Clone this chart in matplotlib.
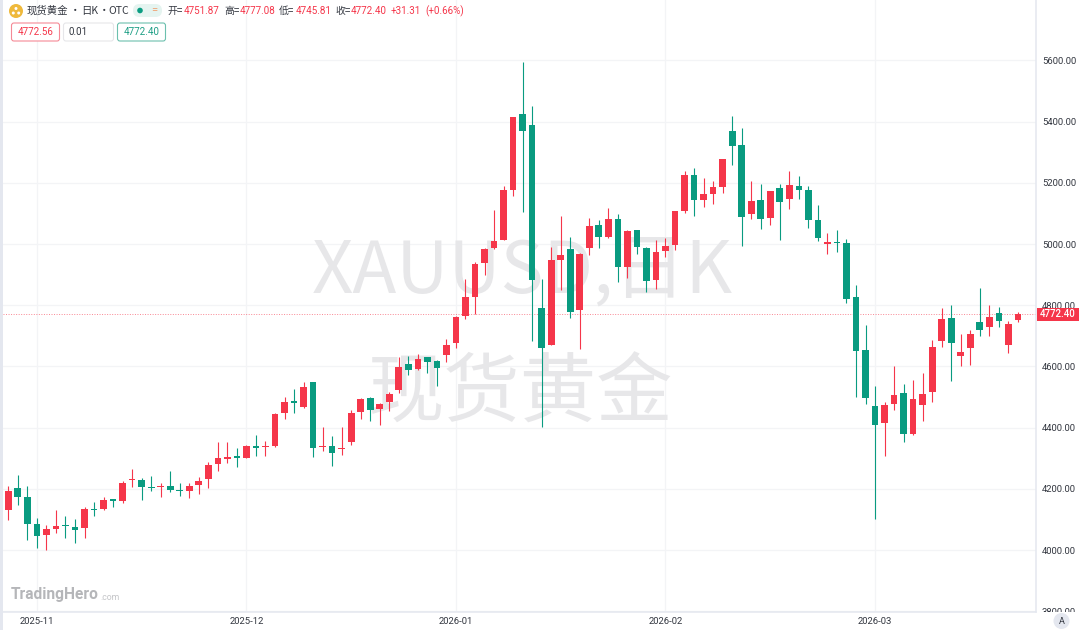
import matplotlib
matplotlib.use("Agg")
import matplotlib.pyplot as plt
from matplotlib.patches import FancyBboxPatch, Rectangle, Circle
from matplotlib.transforms import Bbox

plt.rcParams['font.family'] = ['Roboto', 'Noto Sans CJK SC', 'DejaVu Sans']

opens = [4131,4204,4172,4085,4049,4070,4080,4075,4071,4134,
         4133,4166,4161,4230,4229,4206,4207,4208,4196,4193,
         4211,4231,4282,4296,4307,4302,4339,4335,4339,4449,
         4486,4466,4549,4337,4341,4331,4354,4450,4497,4462,
         4484,4523,4608,4591,4630,4618,4637,4675,4764,4828,
         4938,4986,5012,5177,5424,5390,4791,4671,4948,4983,
         4785,4986,5061,5022,5083,4924,5045,4987,4881,4978,
         4998,5108,5226,5143,5165,5186,5370,5324,5098,5144,
         5084,5183,5148,5189,5177,5077,5000,5006,5003,4827,
         4653,4472,4414,4476,4512,4380,4474,4515,4684,4757,
         4633,4659,4746,4729,4775,4671,4751.87]
closes = [4194,4173,4085,4047,4068,4077,4077,4065,4134,4130,
          4163,4159,4218,4232,4206,4204,4209,4197,4193,4208,
          4227,4279,4300,4305,4302,4339,4333,4339,4443,4484,
          4480,4532,4333,4339,4318,4333,4448,4494,4458,4477,
          4509,4597,4587,4624,4616,4595,4670,4763,4827,4935,
          4985,5009,5178,5416,5369,4883,4661,4947,4964,4779,
          4966,5059,5024,5083,4924,5043,4991,4879,4975,4994,
          5107,5226,5144,5163,5185,5278,5321,5088,5139,5082,
          5173,5136,5192,5177,5079,5018,5005,5004,4819,4650,
          4498,4408,4474,4505,4379,4492,4510,4665,4755,4675,
          4648,4705,4719,4763,4750,4739,4772.40]
highs = [4210,4244,4210,4106,4082,4131,4111,4101,4139,4158,
         4172,4168,4227,4265,4236,4242,4220,4258,4218,4220,
         4237,4287,4353,4352,4333,4343,4376,4356,4449,4499,
         4525,4549,4549,4403,4373,4402,4457,4496,4501,4479,
         4516,4630,4634,4642,4630,4621,4689,4765,4887,4940,
         4988,5111,5190,5416,5595,5451,4885,4991,5093,5023,
         4970,5084,5079,5119,5099,5045,5045,4990,5012,5021,
         5107,5239,5249,5216,5205,5278,5418,5378,5205,5195,
         5173,5196,5239,5222,5189,5127,5037,5045,5015,4866,
         4734,4537,4484,4601,4544,4556,4580,4686,4792,4800,
         4705,4719,4856,4801,4794,4747,4777.08]
lows = [4098,4147,4033,4008,3999,4057,4040,4023,4040,4112,
        4131,4142,4155,4206,4163,4194,4174,4191,4176,4171,
        4182,4204,4258,4285,4270,4300,4307,4307,4337,4429,
        4449,4465,4303,4324,4274,4311,4343,4427,4423,4408,
        4454,4514,4571,4588,4580,4536,4615,4659,4756,4771,
        4900,4985,5012,5158,5105,4683,4403,4670,4850,4759,
        4656,4964,4987,5020,4877,4888,4966,4842,4854,4959,
        4980,5102,5093,5122,5131,5167,5259,4995,5083,5050,
        5062,5014,5115,5148,5053,5009,4966,4973,4807,4501,
        4478,4100,4306,4456,4352,4376,4420,4483,4662,4553,
        4601,4606,4699,4699,4730,4645,4745.81]

month_positions = [3, 25, 47, 69, 91]
month_labels = ['2025-11', '2025-12', '2026-01', '2026-02', '2026-03']
price_ticks = [3800, 4000, 4200, 4400, 4600, 4800, 5000, 5200, 5400, 5600]
last_price = 4772.40

RED = '#f5364a'
GREEN = '#099b80'
GRID = '#f3f4f6'
EDGE = '#e4e7ef'
TXT = '#333740'
W, H = 1080, 630

fig = plt.figure(figsize=(W / 100, H / 100), dpi=100, facecolor='white')
ax = fig.add_axes([3 / W, (H - 612) / H, (1036 - 3) / W, 612 / H])
ax.set_xlim(-0.557, 107.9)
ax.set_ylim(4000 - 62 / 0.306, 4000 + 550 / 0.306)
ax.set_axisbelow(True)
ax.grid(True, color=GRID, lw=0.9)

for s in ['top', 'left']:
    ax.spines[s].set_visible(False)
for s in ['right', 'bottom']:
    ax.spines[s].set_color(EDGE)
    ax.spines[s].set_linewidth(1.1)

ax.yaxis.tick_right()
ax.set_yticks(price_ticks)
ax.set_yticklabels([f'{v:.2f}' for v in price_ticks], fontsize=6.8, color=TXT)
ax.set_xticks(month_positions)
ax.set_xticklabels(month_labels, fontsize=6.8, color=TXT)
ax.tick_params(axis='both', length=0)
ax.tick_params(axis='y', pad=4.2)
ax.tick_params(axis='x', pad=3.6)

clip = Bbox([[0, H - 612], [W, H]])
for t in ax.get_yticklabels():
    t.set_clip_box(clip)
    t.set_clip_on(True)

ax.text(0.503, 0.555, 'XAUUSD,日K', transform=ax.transAxes, ha='center', va='center',
        fontsize=52, color='#e7e7e9', zorder=1, family=['Noto Sans CJK SC', 'DejaVu Sans'])
ax.text(0.5005, 0.355, '现货黄金', transform=ax.transAxes, ha='center', va='center',
        fontsize=55, color='#e7e7e9', zorder=1, family=['Noto Sans CJK SC', 'DejaVu Sans'])

idx = list(range(len(opens)))
colors = [RED if c >= o else GREEN for o, c in zip(opens, closes)]
ax.vlines(idx, lows, highs, colors=colors, lw=0.8, zorder=3)
bottoms = [min(o, c) for o, c in zip(opens, closes)]
heights = [max(abs(c - o), 3.2) for o, c in zip(opens, closes)]
ax.bar(idx, heights, bottom=bottoms, width=0.70, color=colors, linewidth=0, zorder=4)
ax.axhline(last_price, color=RED, lw=0.7, ls=(0, (1, 1.6)), alpha=0.6, zorder=2)

# pixel overlay for the toolbar-like annotations
ov = fig.add_axes([0, 0, 1, 1], facecolor='none')
ov.set_xlim(0, W)
ov.set_ylim(H, 0)
ov.axis('off')

ov.add_patch(Rectangle((0, 0), 3, H, color=EDGE, lw=0))

def box(x0, y0, x1, y1, ec, fc='white', r=2.5, lw=0.8):
    ov.add_patch(FancyBboxPatch((x0, y0), x1 - x0, y1 - y0,
                                boxstyle=f'round,pad=0,rounding_size={r}',
                                ec=ec, fc=fc, lw=lw))

FS = 7.1
CJK = ['Noto Sans CJK SC', 'Roboto', 'DejaVu Sans']
ov.add_patch(Circle((16, 11), 7, color='#efb93c', lw=0))
for cx, cy in [(16, 8.5), (13.3, 13), (18.7, 13)]:
    ov.add_patch(Circle((cx, cy), 1.5, color='white', lw=0))
for x, s, ha in [(27, '现货黄金', 'left'), (75, '•', 'center'), (81, '日K', 'left'),
                 (104, '•', 'center'), (108, 'OTC', 'left')]:
    ov.text(x, 11, s, fontsize=7.5, color=TXT, va='center', ha=ha, family=CJK)
box(133, 4, 162, 17, 'none', '#e5f4f0', r=6.5)
ov.add_patch(Circle((140, 10.5), 2.8, color='#0b9d82', lw=0))
ov.text(154, 10.5, '=', fontsize=8, color='#f0a070', ha='center', va='center')

header = [(168, '开=', TXT), (184, '4751.87', RED), (224, '高=', TXT), (240, '4777.08', RED),
          (279, '低=', TXT), (296, '4745.81', RED), (335, '收=', TXT), (351, '4772.40', RED),
          (391, '+31.31', RED), (425, '(+0.66%)', RED)]
for x, s, c in header:
    ov.text(x, 11, s, fontsize=FS, color=c, va='center', family=CJK if c == TXT else None)

box(11.5, 23, 59.5, 41, '#f58a96')
box(63.5, 23, 113.5, 41, '#e6e6e9')
box(117.5, 23, 165.5, 41, '#6cc0ae')
ov.text(35.5, 32, '4772.56', fontsize=FS, color=RED, ha='center', va='center')
ov.text(68.5, 32, '0.01', fontsize=FS, color=TXT, ha='left', va='center')
ov.text(141.5, 32, '4772.40', fontsize=FS, color='#1f9f86', ha='center', va='center')

ov.add_patch(Rectangle((1037, 307.5), 42, 13.3, color=RED, lw=0))
ov.text(1058, 314.2, f'{last_price:.2f}', fontsize=6.9, color='white', ha='center', va='center',
        fontweight='medium')

ov.add_patch(Circle((1061.5, 621), 8, color=EDGE, lw=0))
ov.text(1061.5, 621, 'A', fontsize=6.6, color=TXT, ha='center', va='center')

ov.text(11, 595, 'TradingHero', fontsize=11.2, color='#b5b6b9', fontweight='bold', va='center')
ov.text(100.5, 597, '.com', fontsize=6.3, color='#c4c5c8', va='center')

fig.savefig('out.png', dpi=100, facecolor='white')
